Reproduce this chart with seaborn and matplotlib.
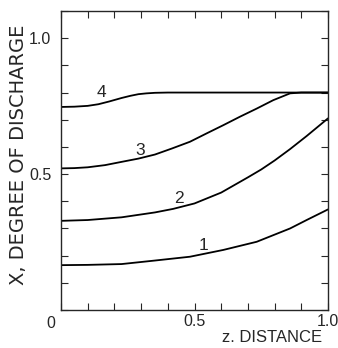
import pandas as pd
from matplotlib import pyplot as plt
from matplotlib.ticker import MultipleLocator
import seaborn as sns

# values
z1 = [0.0, 0.1, 0.227, 0.352, 0.483, 0.608, 0.733, 0.858, 0.92, 1.0]
x1 = [0.165, 0.166, 0.169, 0.182, 0.196, 0.221, 0.251, 0.300, 0.331, 0.370]
z2 = [0.0, 0.1, 0.227, 0.352, 0.42, 0.5, 0.6, 0.7, 0.75, 0.8, 0.858, 0.92, 1.0]
x2 = [0.328, 0.331, 0.341, 0.359, 0.372, 0.392, 0.432, 0.488, 0.517, 0.550, 0.592, 0.640, 0.705]
z3 = [0.0, 0.05, 0.1, 0.165, 0.227, 0.29, 0.352, 0.415, 0.483, 0.546, 0.608,
      0.67, 0.733, 0.795, 0.858, 0.9, 1.0]
x3 = [0.521, 0.522, 0.525, 0.533, 0.545, 0.557, 0.572, 0.594, 0.619, 0.650, 0.680,
      0.711, 0.741, 0.772, 0.797, 0.800, 0.800]
z4 = [0.0, 0.05, 0.1, 0.14, 0.18, 0.227, 0.26, 0.29, 0.32, 0.352, 0.4, 0.6, 0.8, 1.0]
x4 = [0.747, 0.748, 0.751, 0.757, 0.767, 0.780, 0.788, 0.794, 0.797, 0.799, 0.800,
      0.800, 0.800, 0.800]

labels = ['1', '2', '3', '4']
label_z = [0.533, 0.44, 0.296, 0.152]
label_x = [0.239, 0.41, 0.588, 0.80]

frames = []
for name, z, x in zip(labels, [z1, z2, z3, z4], [x1, x2, x3, x4]):
    frames.append(pd.DataFrame({'z': z, 'x': x, 'curve': name}))
data = pd.concat(frames)

sns.set_style('ticks')
plt.rcParams['font.family'] = ['Liberation Sans', 'DejaVu Sans']
fig = plt.figure(figsize=(3.38, 3.48), dpi=100)
ax = fig.add_axes([61 / 338, 38 / 348, 267 / 338, 299 / 348])

sns.lineplot(data=data, x='z', y='x', units='curve', estimator=None,
             color='black', linewidth=1.3, ax=ax)

for s, zx, xx in zip(labels, label_z, label_x):
    ax.text(zx, xx, s, fontsize=12.5, ha='center', va='center')

ax.set_xlim(0, 1.0)
ax.set_ylim(0, 1.1)
ax.xaxis.set_minor_locator(MultipleLocator(0.1))
ax.yaxis.set_minor_locator(MultipleLocator(0.1))
ax.set_xticks([0.5, 1.0])
ax.set_xticklabels(['0.5', '1.0'])
ax.set_yticks([0.5, 1.0])
ax.set_yticklabels(['0.5', '1.0'])
ax.tick_params(which='both', direction='in', top=True, right=True,
               length=5, width=0.8, labelsize=11.5)
ax.tick_params(axis='x', pad=3)
ax.tick_params(axis='y', pad=7)
for sp in ax.spines.values():
    sp.set_linewidth(1.0)

# corner label shared by both axes
ax.text(-0.037, -0.045, '0', transform=ax.transAxes, fontsize=11.5,
        ha='center', va='center')

ax.set_xlabel('z. DISTANCE', fontsize=12, labelpad=0)
ax.xaxis.set_label_coords(0.79, -0.068)
ax.set_ylabel('X, DEGREE OF DISCHARGE', fontsize=14, family='DejaVu Sans')
ax.yaxis.set_label_coords(-0.125, 0.518)

plt.savefig('out.png', dpi=100)
